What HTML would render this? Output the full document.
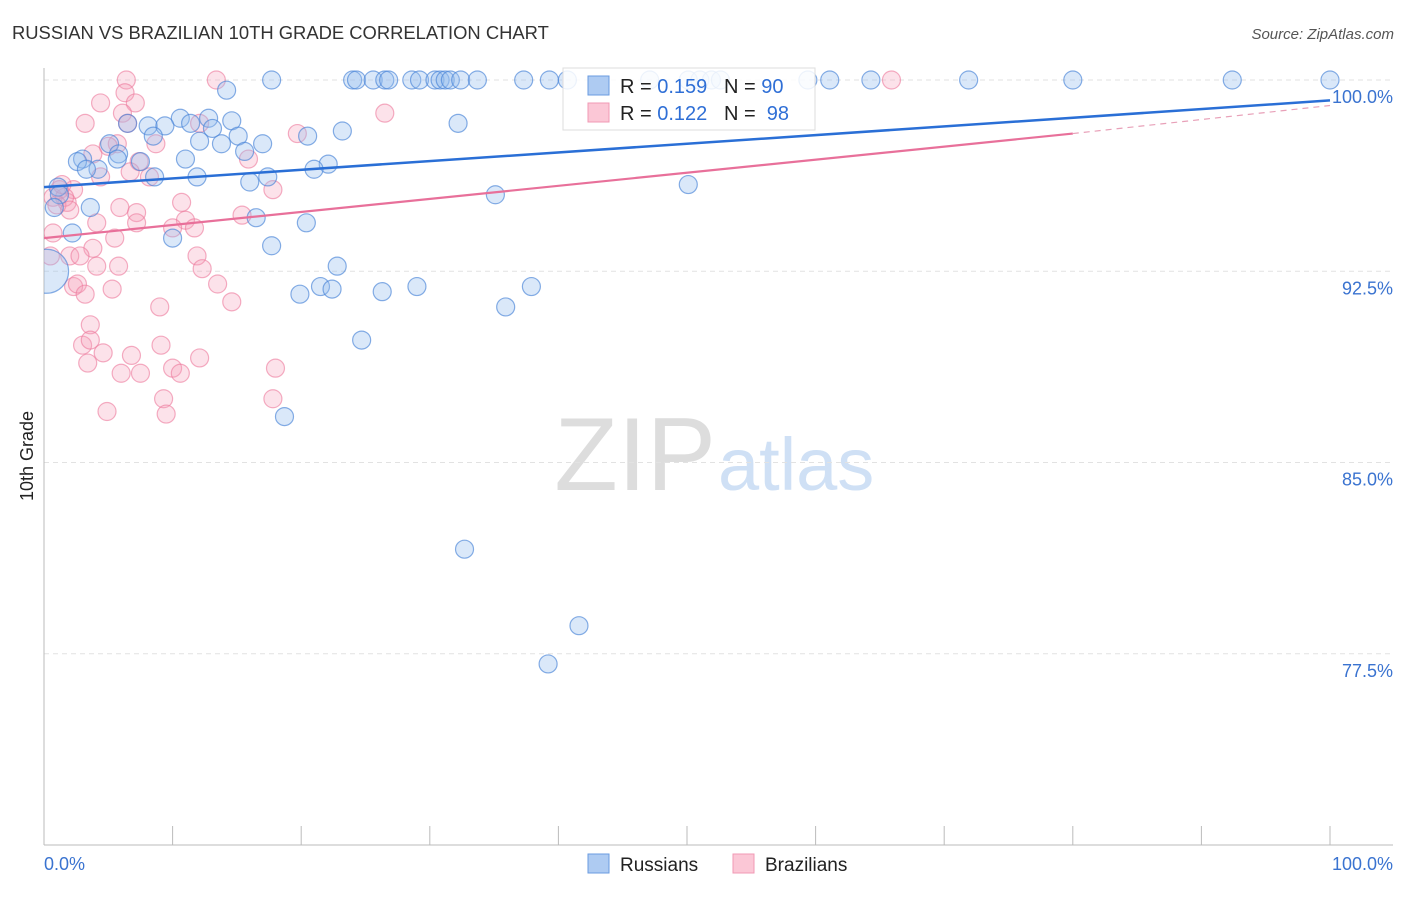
<!DOCTYPE html>
<html><head><meta charset="utf-8"><style>
body{margin:0;background:#fff;font-family:"Liberation Sans",sans-serif}
svg text{font-family:"Liberation Sans",sans-serif}
</style></head><body>
<svg width="1406" height="892" xmlns="http://www.w3.org/2000/svg" id="svg">
<defs><clipPath id="plotclip"><rect x="44" y="60" width="1360" height="785"/></clipPath></defs>
<text x="12" y="39" font-size="18.4" fill="#333">RUSSIAN VS BRAZILIAN 10TH GRADE CORRELATION CHART</text>
<text x="1394" y="39" font-size="15" fill="#555" text-anchor="end" font-style="italic">Source: ZipAtlas.com</text>
<text transform="translate(33,456) rotate(-90)" font-size="18" fill="#222" text-anchor="middle">10th Grade</text>
<text x="716" y="490" font-size="104" fill="#ddd" text-anchor="end" font-family="Liberation Serif">ZIP</text>
<text x="718" y="490" font-size="74" fill="#cfe0f5">atlas</text>
<g id="grid"></g><g id="pts" clip-path="url(#plotclip)"></g><g id="lines"></g>
<g>
<rect x="563" y="68" width="252" height="62" fill="rgba(255,255,255,0.85)" stroke="#ddd"/>
<rect x="588" y="76" width="21" height="19" fill="#aecbf2" stroke="#6a9be0"/>
<rect x="588" y="103" width="21" height="19" fill="#fbc7d6" stroke="#f09ab4"/>
<text x="620" y="93" font-size="20" fill="#222" xml:space="preserve">R = <tspan fill="#2f6fd6">0.159</tspan>   N = <tspan fill="#2f6fd6">90</tspan></text>
<text x="620" y="120" font-size="20" fill="#222" xml:space="preserve">R = <tspan fill="#2f6fd6">0.122</tspan>   N = <tspan fill="#2f6fd6"> 98</tspan></text>
</g>
<g>
<rect x="588" y="854" width="21" height="19" fill="#aecbf2" stroke="#6a9be0"/>
<text x="620" y="871" font-size="19" fill="#222">Russians</text>
<rect x="733" y="854" width="21" height="19" fill="#fbc7d6" stroke="#f09ab4"/>
<text x="765" y="871" font-size="19" fill="#222">Brazilians</text>
</g>
<text x="44" y="870" font-size="18" fill="#3a73d0">0.0%</text>
<text x="1393" y="870" font-size="18" fill="#3a73d0" text-anchor="end">100.0%</text>
</svg>
<script>
const yTicks=[100,92.5,85,77.5];
const yTickLabels=["100.0%","92.5%","85.0%","77.5%"];
const xTicks=[0,10,20,30,40,50,60,70,80,90,100];
const rusX=[17.7,24.0,24.3,25.6,26.5,26.8,28.6,29.2,30.4,30.8,31.2,31.6,32.4,33.7,37.3,39.3,40.7,47.1,50.1,51.0,51.9,52.6,59.4,61.1,64.3,71.9,80.0,92.4,100,
14.2,10.6,12.8,14.6,32.2,11.4,8.1,9.4,13.1,6.5,23.2,15.1,20.5,8.5,12.1,13.8,17.0,5.1,5.8,3.0,2.6,5.7,7.5,11.0,15.6,22.1,21.0,4.2,3.3,11.9,17.4,8.6,16.0,50.1,1.1,1.2,35.1,3.6,0.8,16.5,20.4,2.2,10.0,17.7,22.8,21.5,22.4,19.9,26.3,29.0,37.9,35.9,24.7,18.7,32.7,41.6,39.2,0.2];
const rusY=[100,100,100,100,100,100,100,100,100,100,100,100,100,100,100,100,100,100,100,100,100,100,100,100,100,100,100,100,100,
99.6,98.5,98.5,98.4,98.3,98.3,98.2,98.2,98.1,98.3,98.0,97.8,97.8,97.8,97.6,97.5,97.5,97.5,97.1,96.9,96.8,96.9,96.8,96.9,97.2,96.7,96.5,96.5,96.5,96.2,96.2,96.2,96.0,95.9,95.8,95.5,95.5,95.0,95.0,94.6,94.4,94.0,93.8,93.5,92.7,91.9,91.8,91.6,91.7,91.9,91.9,91.1,89.8,86.8,81.6,78.6,77.1,92.5];
const braX=[6.4,13.4,4.4,6.3,7.1,6.1,3.2,6.5,12.1,19.7,8.7,5.7,5.0,3.8,7.4,15.9,6.7,8.2,4.4,17.8,2.3,0.7,1.8,10.7,5.9,7.2,15.4,11.0,7.2,4.1,10.0,11.7,5.5,0.7,3.8,2.0,2.8,0.5,11.9,12.3,4.1,5.8,13.5,2.3,2.6,3.2,5.3,14.6,9.0,3.6,3.0,3.6,4.6,6.8,9.1,12.1,3.4,6.0,7.5,10.0,10.6,18.0,17.8,9.3,4.9,9.5,26.5,65.9,1.2,1.6,1.0,2.0,1.4];
const braY=[100,100,99.1,99.5,99.1,98.7,98.3,98.3,98.3,97.9,97.5,97.5,97.4,97.1,96.8,96.9,96.4,96.2,96.2,95.7,95.7,95.4,95.2,95.2,95.0,94.8,94.7,94.5,94.4,94.4,94.2,94.2,93.8,94.0,93.4,93.1,93.1,93.1,93.1,92.6,92.7,92.7,92.0,91.9,92.0,91.6,91.8,91.3,91.1,90.4,89.6,89.8,89.3,89.2,89.6,89.1,88.9,88.5,88.5,88.7,88.5,88.7,87.5,87.5,87.0,86.9,98.7,100,95.7,95.4,95.1,94.9,95.9];
const rusTrend=[95.8,99.2];
const braTrend=[93.8,97.9,99.0];
const NS="http://www.w3.org/2000/svg";
const X=v=>44+v*12.86, Y=v=>80+(100-v)*25.5;
function mk(tag,at,parent){const e=document.createElementNS(NS,tag);for(const k in at)e.setAttribute(k,at[k]);parent.appendChild(e);return e;}
const grid=document.getElementById('grid');
yTicks.forEach((t,i)=>{
 const l=mk('line',{x1:44,x2:1393,y1:Y(t),y2:Y(t),stroke:'#e2e2e2','stroke-dasharray':'5,4'},grid);
 
 
 const tx=mk('text',{x:1393,y:Y(t)+23,'font-size':18,fill:'#3a73d0','text-anchor':'end'},grid);
 tx.textContent=yTickLabels[i];
 
 
});
const ax=mk('line',{x1:44,x2:44,y1:68,y2:845,stroke:'#bbb'},grid);


const bx=mk('line',{x1:44,x2:1393,y1:845,y2:845,stroke:'#bbb'},grid);


xTicks.forEach(t=>{
 const l=mk('line',{x1:X(t),x2:X(t),y1:826,y2:845,stroke:'#bbb'},grid);
 
 
});
const pts=document.getElementById('pts');
braX.forEach((x,i)=>{
 const c=mk('circle',{cx:X(x),cy:Y(braY[i]),r:9,fill:'rgba(246,160,185,0.3)',stroke:'rgba(236,120,155,0.6)','stroke-width':1.2},pts);
 
 
});
rusX.forEach((x,i)=>{
 const big=i===rusX.length-1;
 const c=mk('circle',{cx:X(x),cy:Y(rusY[i]),r:big?22:9,fill:'rgba(150,188,238,0.35)',stroke:'rgba(70,130,215,0.65)','stroke-width':1.2},pts);
 
 
});
const lines=document.getElementById('lines');
const rl=mk('line',{x1:X(0),y1:Y(rusTrend[0]),x2:X(100),y2:Y(rusTrend[1]),stroke:'#2a6fd6','stroke-width':2.5},lines);


const pl=mk('line',{x1:X(0),y1:Y(braTrend[0]),x2:X(80),y2:Y(braTrend[1]),stroke:'#e8709a','stroke-width':2.2},lines);


const pd=mk('line',{x1:X(80),y1:Y(braTrend[1]),x2:X(100),y2:Y(braTrend[2]),stroke:'#e8a0b8','stroke-width':1.2,'stroke-dasharray':'6,5'},lines);


</script>
</body></html>
